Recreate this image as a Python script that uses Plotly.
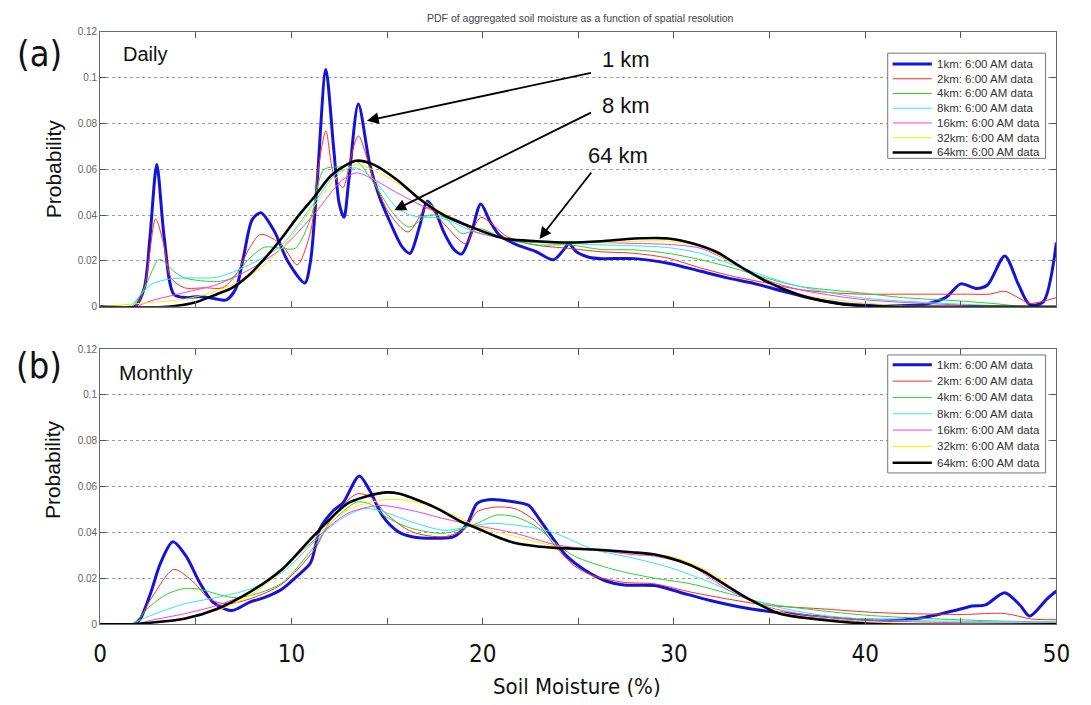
import plotly.graph_objects as go

# ---------------------------------------------------------------- series meta
series_names = ["1km: 6:00 AM data", "2km: 6:00 AM data", "4km: 6:00 AM data",
                "8km: 6:00 AM data", "16km: 6:00 AM data", "32km: 6:00 AM data",
                "64km: 6:00 AM data"]
series_colors = ["#1414d8", "#ff2a2a", "#2ad42a", "#2ee6f0", "#f03cf0", "#f2f200", "#000000"]
series_widths = [3.0, 1.0, 1.0, 1.0, 1.0, 1.0, 2.6]

# ---------------------------------------------------------------- (a) daily PDFs
daily_1km_x = [0, 1.8, 2.3, 2.6, 2.96, 3.35, 3.85, 4.5, 5.2, 6.0, 6.6, 7.1, 7.5, 7.95, 8.4, 9.1,
               9.8, 10.7, 11.0, 11.35, 11.8, 12.2, 12.5, 12.75, 13.0, 13.5, 14.1, 14.6, 15.1,
               15.8, 16.2, 16.7, 17.1, 17.5, 18.0, 18.5, 18.9, 19.4, 19.9, 20.4, 20.9, 21.8,
               22.8, 23.7, 24.3, 24.5, 24.9, 25.6, 26.2, 27.95, 29.7, 31.4, 32.8, 34.1, 35.65,
               37.4, 39.1, 41.0, 43.0, 44.2, 45.0, 45.8, 46.4, 47.3, 48.0, 48.6, 49.3, 50]
daily_1km_y = [0, 0, 0.008, 0.03, 0.062, 0.03, 0.0055, 0.004, 0.0045, 0.0035, 0.003, 0.008, 0.022,
               0.038, 0.041, 0.033, 0.02, 0.0104, 0.02, 0.055, 0.1035, 0.07, 0.045, 0.039, 0.055,
               0.0884, 0.062, 0.048, 0.038, 0.026, 0.0233, 0.035, 0.046, 0.042, 0.032, 0.025,
               0.023, 0.032, 0.0448, 0.037, 0.031, 0.027, 0.024, 0.0205, 0.0255, 0.0276, 0.024,
               0.0215, 0.021, 0.021, 0.019, 0.0155, 0.0126, 0.0104, 0.0069, 0.0033, 0.0011,
               0.0005, 0.001, 0.004, 0.010, 0.008, 0.0095, 0.0222, 0.010, 0.001, 0.002, 0.028]

daily_2km_x = [0, 1.8, 2.3, 2.9, 3.3, 3.7, 4.4, 5.5, 6.4, 7.1, 7.8, 8.4, 9.5, 10.3, 11.0, 11.4,
               11.8, 12.2, 12.7, 13.1, 13.5, 14.3, 15.1, 16.1, 17.1, 18.0, 19.1, 19.9, 21.3, 22.8,
               24.5, 26.2, 27.95, 29.7, 31.4, 33.1, 34.8, 36.5, 38.5, 40, 42, 44, 45.5, 46.5,
               47.3, 48.0, 48.6, 50]
daily_2km_y = [0, 0, 0.008, 0.0383, 0.028, 0.0126, 0.0083, 0.0083, 0.0083, 0.014, 0.0255, 0.0316,
               0.027, 0.0183, 0.0326, 0.06, 0.0767, 0.058, 0.052, 0.065, 0.0745, 0.0555, 0.041,
               0.0326, 0.0433, 0.036, 0.0276, 0.039, 0.0305, 0.0269, 0.0255, 0.024, 0.0233,
               0.0212, 0.0169, 0.0133, 0.0104, 0.0076, 0.006, 0.0055, 0.0055, 0.0055, 0.0055,
               0.0055, 0.0068, 0.004, 0.0015, 0.004]

daily_4km_x = [0, 1.6, 2.3, 3.1, 3.85, 4.4, 6.1, 6.9, 7.8, 8.6, 9.5, 10.2, 11.0, 11.7, 12.7, 13.4,
               14.3, 15.3, 16.15, 17.2, 18.0, 18.9, 19.9, 21.1, 22.8, 24.5, 26.2, 27.95, 29.7,
               31.4, 33.1, 34.8, 36.5, 39.7, 42, 45, 47, 48, 50]
daily_4km_y = [0, 0, 0.008, 0.0207, 0.0155, 0.0126, 0.011, 0.0126, 0.021, 0.026, 0.0255, 0.0255,
               0.0383, 0.0598, 0.0612, 0.0634, 0.054, 0.041, 0.0348, 0.04, 0.039, 0.032, 0.034,
               0.0298, 0.027, 0.027, 0.025, 0.0248, 0.0233, 0.0205, 0.0169, 0.0126, 0.009, 0.0061,
               0.004, 0.0025, 0.0012, 0.0003, 0]

daily_8km_x = [0, 1.45, 2.65, 3.5, 4.4, 6.1, 7.8, 9.5, 11.2, 12.4, 13.4, 14.3, 15.5, 16.3, 18.0,
               19.4, 21.1, 22.8, 24.5, 26.2, 27.95, 29.7, 31.4, 33.1, 34.8, 36.5, 39.7, 43, 46,
               48, 50]
daily_8km_y = [0, 0, 0.0097, 0.0119, 0.0126, 0.0129, 0.0183, 0.027, 0.0455, 0.0584, 0.0605,
               0.0555, 0.0433, 0.0398, 0.0383, 0.0333, 0.0298, 0.028, 0.0276, 0.027, 0.0266,
               0.0258, 0.0233, 0.0183, 0.0133, 0.009, 0.004, 0.002, 0.0008, 0.0002, 0]

daily_16km_x = [0, 1.8, 2.65, 4.4, 6.1, 7.8, 9.5, 11.2, 12.6, 13.4, 14.3, 15.5, 17.2, 18.9, 19.4,
                21.1, 22.8, 24.5, 26.2, 27.95, 29.7, 31.4, 33.1, 34.8, 36.5, 39.7, 43, 46, 50]
daily_16km_y = [0, 0, 0.0026, 0.0062, 0.0097, 0.0162, 0.0255, 0.0405, 0.0548, 0.0584, 0.0555,
                0.0498, 0.0426, 0.037, 0.0333, 0.0298, 0.0285, 0.028, 0.028, 0.0276, 0.0272,
                0.0255, 0.019, 0.0119, 0.0076, 0.0033, 0.0015, 0.0005, 0]

daily_32km_x = [0, 2.65, 4.4, 6.1, 7.8, 9.5, 11.2, 12.6, 13.4, 14.6, 16.3, 18.0, 19.7, 21.1, 22.8,
                24.5, 26.2, 27.95, 29.7, 31.4, 33.1, 34.8, 36.5, 39.7, 42, 50]
daily_32km_y = [0, 0.0019, 0.0033, 0.0069, 0.0133, 0.0255, 0.044, 0.0584, 0.062, 0.0584, 0.0498,
                0.0405, 0.0333, 0.03, 0.0283, 0.028, 0.028, 0.0286, 0.0286, 0.0262, 0.019, 0.0112,
                0.0056, 0.0019, 0.0005, 0]

daily_64km_x = [0, 3.5, 5.0, 6.1, 6.9, 7.8, 8.6, 9.5, 10.3, 11.2, 12.05, 12.9, 13.4, 14.3, 15.5,
                16.7, 18.0, 19.4, 21.1, 22.8, 24.5, 26.2, 27.95, 29.7, 31.0, 32.2, 33.6, 34.8,
                36.5, 38.2, 39.7, 42, 50]
daily_64km_y = [0, 0, 0.002, 0.0055, 0.0083, 0.014, 0.021, 0.030, 0.039, 0.048, 0.057, 0.062,
                0.0637, 0.062, 0.0555, 0.047, 0.0398, 0.0348, 0.0298, 0.0286, 0.028, 0.0286,
                0.0298, 0.0298, 0.0276, 0.024, 0.0169, 0.0112, 0.0054, 0.0019, 0.0004, 0, 0]

# ---------------------------------------------------------------- (b) monthly PDFs
monthly_1km_x = [0, 1.8, 2.1, 2.65, 3.16, 3.8, 4.5, 5.2, 5.9, 6.9, 7.8, 8.6, 9.5, 10.3, 11.0, 11.5,
                 12.2, 12.7, 13.55, 14.1, 14.8, 15.6, 16.3, 17.7, 18.5, 19.2, 19.7, 20.3, 21.7,
                 22.4, 23.0, 23.6, 24.4, 25.4, 26.4, 27.4, 29.0, 30.3, 31.9, 33.9, 35.9, 38.0,
                 40.0, 42.0, 43.1, 44.8, 45.6, 46.3, 47.3, 48.1, 48.6, 49.5, 50]
monthly_1km_y = [0, 0, 0.0024, 0.0139, 0.0268, 0.036, 0.0296, 0.0182, 0.0096, 0.006, 0.0096,
                 0.0117, 0.0153, 0.021, 0.0268, 0.0418, 0.0496, 0.053, 0.0647, 0.0582, 0.0468,
                 0.0403, 0.0382, 0.0375, 0.0382, 0.044, 0.0526, 0.0543, 0.0533, 0.0519, 0.0454,
                 0.0383, 0.0297, 0.0233, 0.019, 0.0171, 0.0169, 0.014, 0.0104, 0.0069, 0.0047,
                 0.0029, 0.0019, 0.0019, 0.003, 0.0062, 0.008, 0.0085, 0.0138, 0.0083, 0.0036,
                 0.011, 0.0145]

monthly_2km_x = [0, 1.8, 2.65, 3.85, 4.9, 5.7, 6.6, 7.8, 9.5, 11.2, 12.05, 13.4, 14.1, 14.95,
                 16.3, 18.0, 19.1, 19.7, 20.7, 21.7, 22.8, 23.8, 24.8, 25.8, 27.4, 29.0, 30.9,
                 32.9, 34.9, 38.0, 40.0, 42.0, 45.1, 47.3, 48.7, 50]
monthly_2km_y = [0, 0, 0.011, 0.0239, 0.0182, 0.011, 0.0089, 0.011, 0.0175, 0.0325, 0.0454,
                 0.0568, 0.0557, 0.0482, 0.0403, 0.0382, 0.0418, 0.049, 0.0511, 0.0504, 0.0447,
                 0.034, 0.0254, 0.0211, 0.0183, 0.0176, 0.014, 0.0109, 0.0083, 0.0066, 0.0054,
                 0.0047, 0.0043, 0.0047, 0.0023, 0.002]

monthly_4km_x = [0, 1.6, 2.65, 3.5, 4.4, 5.2, 6.1, 6.9, 7.8, 9.5, 11.2, 12.05, 13.4, 14.1, 14.95,
                 16.3, 18.0, 19.7, 20.7, 21.7, 22.8, 23.8, 24.8, 26.8, 28.8, 30.9, 32.9, 34.9,
                 37.0, 40.0, 43.0, 47.1, 50]
monthly_4km_y = [0, 0, 0.0082, 0.0132, 0.0156, 0.0153, 0.0132, 0.0117, 0.0124, 0.018, 0.034,
                 0.044, 0.0532, 0.0525, 0.0468, 0.0418, 0.0397, 0.044, 0.0476, 0.0469, 0.0426,
                 0.0354, 0.0297, 0.024, 0.0204, 0.0176, 0.0133, 0.009, 0.0066, 0.004, 0.0026,
                 0.0014, 0.001]

monthly_8km_x = [0, 1.5, 2.65, 4.4, 6.1, 7.8, 9.5, 11.2, 12.6, 13.8, 14.6, 16.3, 18.0, 19.7,
                 20.7, 22.8, 23.8, 25.8, 27.8, 29.8, 31.9, 33.9, 35.9, 38.0, 40.0, 44.0, 50]
monthly_8km_y = [0, 0, 0.0039, 0.0089, 0.0117, 0.0153, 0.0225, 0.036, 0.046, 0.0504, 0.0496,
                 0.0446, 0.041, 0.0433, 0.044, 0.0419, 0.0397, 0.0326, 0.029, 0.0247, 0.0183,
                 0.0111, 0.0066, 0.0037, 0.0023, 0.0014, 0.001]

monthly_16km_x = [0, 1.8, 2.65, 4.4, 6.1, 7.8, 9.5, 11.2, 12.9, 14.6, 16.3, 18.0, 19.7, 21.7,
                  23.8, 25.8, 27.8, 29.0, 30.9, 32.9, 34.9, 37.0, 40.0, 44, 50]
monthly_16km_y = [0, 0, 0.0017, 0.0046, 0.0082, 0.0139, 0.0239, 0.0368, 0.0482, 0.0518, 0.0496,
                  0.046, 0.043, 0.0397, 0.0347, 0.0326, 0.0304, 0.0297, 0.0254, 0.0147, 0.0076,
                  0.004, 0.0019, 0.0008, 0.0005]

monthly_32km_x = [0, 2.65, 4.4, 6.1, 7.8, 9.5, 11.2, 12.9, 14.6, 15.6, 17.2, 18.9, 19.7, 21.7,
                  23.8, 25.8, 27.8, 29.9, 31.9, 33.9, 35.9, 38.0, 42, 50]
monthly_32km_y = [0, 0.0007, 0.0027, 0.006, 0.0124, 0.0232, 0.0375, 0.0496, 0.054, 0.0544,
                  0.0518, 0.046, 0.0426, 0.0383, 0.034, 0.0326, 0.0311, 0.0294, 0.0226, 0.011,
                  0.0047, 0.0026, 0.0005, 0]

monthly_64km_x = [0, 1.5, 2.65, 4.4, 6.1, 7.8, 9.5, 11.2, 12.9, 13.9, 14.95, 15.6, 17.5, 18.9,
                  19.7, 20.7, 21.7, 22.8, 23.8, 25.8, 27.8, 29.0, 30.3, 31.5, 32.9, 33.9, 35.5,
                  37.0, 39.0, 41, 50]
monthly_64km_y = [0, 0, 0.0007, 0.0024, 0.0067, 0.0139, 0.0239, 0.0389, 0.0525, 0.0557, 0.0575,
                  0.057, 0.051, 0.0446, 0.0419, 0.0383, 0.0354, 0.034, 0.0333, 0.0326, 0.0314,
                  0.0304, 0.0276, 0.0233, 0.0161, 0.0111, 0.0047, 0.0026, 0.0009, 0, 0]

# ---------------------------------------------------------------- axes ticks
x_tick_vals = [0, 5, 10, 15, 20, 25, 30, 35, 40, 45, 50]
x_tick_text = ["0", "", "10", "", "20", "", "30", "", "40", "", "50"]
y_tick_vals = [0, 0.02, 0.04, 0.06, 0.08, 0.10, 0.12]
y_tick_text = ["0", "0.02", "0.04", "0.06", "0.08", "0.1", "0.12"]

daily = [(daily_1km_x, daily_1km_y), (daily_2km_x, daily_2km_y), (daily_4km_x, daily_4km_y),
         (daily_8km_x, daily_8km_y), (daily_16km_x, daily_16km_y),
         (daily_32km_x, daily_32km_y), (daily_64km_x, daily_64km_y)]
monthly = [(monthly_1km_x, monthly_1km_y), (monthly_2km_x, monthly_2km_y),
           (monthly_4km_x, monthly_4km_y), (monthly_8km_x, monthly_8km_y),
           (monthly_16km_x, monthly_16km_y), (monthly_32km_x, monthly_32km_y),
           (monthly_64km_x, monthly_64km_y)]

W, H = 1091, 705
SANS = "Liberation Sans, Arial, sans-serif"
NARROW = "Liberation Sans Narrow, Arial Narrow, DejaVu Sans Condensed, Liberation Sans, sans-serif"


def px_x(p):
    return p / W


def px_y(p):
    return 1 - p / H


fig = go.Figure()

for data, xa, ya in [(daily, "x", "y"), (monthly, "x2", "y2")]:
    for i, (xs, ys) in enumerate(data):
        fig.add_trace(go.Scatter(
            x=xs, y=ys, mode="lines", name=series_names[i], showlegend=False,
            line=dict(color=series_colors[i], width=series_widths[i],
                      shape="spline", smoothing=0.8),
            xaxis=xa, yaxis=ya, hoverinfo="skip"))

x_dom = [px_x(95), px_x(1070)]
frame = dict(showline=True, linecolor="#6a6a6a", linewidth=1, mirror="ticks",
             ticks="inside", ticklen=6, tickcolor="#555", zeroline=False)

fig.update_layout(
    width=W, height=H, margin=dict(l=0, r=0, t=0, b=0),
    paper_bgcolor="white", plot_bgcolor="white", showlegend=False,
    font=dict(family=SANS, color="#222"),
    xaxis=dict(domain=x_dom, anchor="y", range=[0, 50], tickvals=x_tick_vals,
               showticklabels=False, showgrid=False, **frame),
    yaxis=dict(domain=[px_y(306), px_y(26)], anchor="x", range=[0, 0.12],
               tickvals=y_tick_vals, ticktext=y_tick_text,
               tickfont=dict(size=10, color="#666"),
               showgrid=True, gridcolor="#9a9a9a", griddash="dot", gridwidth=1, **frame),
    xaxis2=dict(domain=x_dom, anchor="y2", range=[0, 50], tickvals=x_tick_vals,
                ticktext=x_tick_text, tickfont=dict(size=24, color="#111", family=NARROW),
                ticklabelstandoff=8, showgrid=False, **frame),
    yaxis2=dict(domain=[px_y(629), px_y(349)], anchor="x2", range=[0, 0.12],
                tickvals=y_tick_vals, ticktext=y_tick_text,
                tickfont=dict(size=10, color="#666"),
                showgrid=True, gridcolor="#9a9a9a", griddash="dot", gridwidth=1, **frame),
)

# ---------------------------------------------------------------- legend boxes
legend_boxes = [dict(top=48, bottom=155, first=59, step=15.0),
                dict(top=355, bottom=475, first=365, step=16.6)]
for box in legend_boxes:
    fig.add_shape(type="rect", xref="paper", yref="paper",
                  x0=px_x(898), x1=px_x(1059), y0=px_y(box["bottom"]), y1=px_y(box["top"]),
                  fillcolor="white", line=dict(color="#777", width=1), layer="above")
    for i, name in enumerate(series_names):
        yc = box["first"] + box["step"] * i
        fig.add_shape(type="line", xref="paper", yref="paper",
                      x0=px_x(903), x1=px_x(943), y0=px_y(yc), y1=px_y(yc),
                      line=dict(color=series_colors[i], width=series_widths[i]), layer="above")
        fig.add_annotation(text=name, x=px_x(946), y=px_y(yc), xref="paper", yref="paper",
                           xanchor="left", yanchor="middle", showarrow=False,
                           font=dict(size=11.5, color="#333", family=SANS))

notes = [
    dict(text="PDF of aggregated soil moisture as a function of spatial resolution",
         x=px_x(585), y=px_y(12), size=10.5, color="#444", family=SANS),
    dict(text="(a)", x=px_x(33), y=px_y(48), size=36, color="#111", family=NARROW),
    dict(text="(b)", x=px_x(33), y=px_y(366), size=36, color="#111", family=NARROW),
    dict(text="Soil Moisture (%)", x=px_x(581), y=px_y(692), size=22, color="#111",
         family=NARROW),
]
for n in notes:
    fig.add_annotation(text=n["text"], x=n["x"], y=n["y"], xref="paper", yref="paper",
                       xanchor="center", yanchor="middle", showarrow=False,
                       font=dict(size=n["size"], color=n["color"], family=n["family"]))

for cy in (166, 472):
    fig.add_annotation(text="Probability", x=px_x(47), y=px_y(cy), xref="paper", yref="paper",
                       textangle=-90, showarrow=False, xanchor="center", yanchor="middle",
                       font=dict(size=21, color="#111", family=SANS))

fig.add_annotation(text="Daily", x=px_x(116), y=px_y(49), xref="paper", yref="paper",
                   xanchor="left", yanchor="middle", showarrow=False,
                   font=dict(size=20, color="#111", family=SANS))
fig.add_annotation(text="Monthly", x=px_x(112), y=px_y(373), xref="paper", yref="paper",
                   xanchor="left", yanchor="middle", showarrow=False,
                   font=dict(size=21, color="#111", family=SANS))

# resolution call-outs in the daily panel
callouts = [("1 km", 27.5, 0.108), ("8 km", 27.5, 0.0876), ("64 km", 27.1, 0.0661)]
for label, cx, cy in callouts:
    fig.add_annotation(text=label, x=cx, y=cy, xref="x", yref="y", showarrow=False,
                       xanchor="center", yanchor="middle",
                       font=dict(size=22, color="#111", family=SANS))

arrows = [((25.74, 0.1021), (13.95, 0.0811)),
          ((25.74, 0.0850), (15.38, 0.0421)),
          ((25.74, 0.0592), (22.97, 0.0296))]
for (tx, ty), (hx, hy) in arrows:
    fig.add_annotation(text="", x=hx, y=hy, ax=tx, ay=ty, xref="x", yref="y",
                       axref="x", ayref="y", showarrow=True, arrowhead=2,
                       arrowsize=1.3, arrowwidth=1.8, arrowcolor="#000")

fig.write_html("out.html")
